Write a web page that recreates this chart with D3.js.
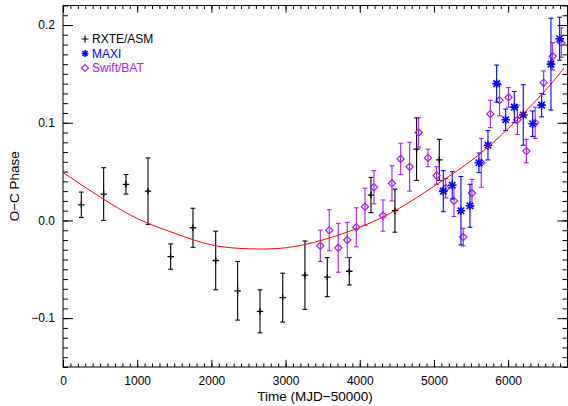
<!DOCTYPE html>
<html lang="en">

<head>
    <meta charset="UTF-8">
    <title>O-C Phase</title>
    <script src="https://d3js.org/d3.v7.min.js"></script>
    <style>
        body {
            margin: 0;
            background: #fff;
        }

        svg {
            display: block;
            font-family: "Liberation Sans", Arial, sans-serif;
        }
    </style>
</head>

<body>
    <svg class="chart" width="568" height="406"></svg>

    <script>
        // RXTE/ASM points (time, phase, error)
        const asmT = [247, 548, 849, 1146, 1451, 1752, 2058, 2354, 2655, 2961, 3261, 3562, 3859, 4151, 4474, 4766, 5072];
        const asmPhase = [0.016, 0.027, 0.037, 0.030, -0.037, -0.0075, -0.041, -0.072, -0.093, -0.079, -0.056, -0.058, -0.052, 0.026, 0.010, 0.073, 0.062];
        const asmErr = [0.013, 0.027, 0.010, 0.034, 0.013, 0.020, 0.030, 0.030, 0.022, 0.025, 0.035, 0.020, 0.014, 0.018, 0.022, 0.032, 0.021];

        // MAXI points
        const maxiT = [5126, 5247, 5364, 5485, 5606, 5728, 5845, 5966, 6083, 6204, 6330, 6451, 6577, 6694];
        const maxiPhase = [0.030, 0.036, 0.010, 0.015, 0.059, 0.077, 0.140, 0.103, 0.116, 0.108, 0.099, 0.118, 0.160, 0.186];
        const maxiErr = [0.021, 0.014, 0.035, 0.022, 0.010, 0.015, 0.019, 0.011, 0.016, 0.031, 0.013, 0.012, 0.047, 0.022];

        // Swift/BAT points
        const batT = [3468, 3589, 3710, 3832, 3953, 4070, 4191, 4313, 4434, 4551, 4672, 4793, 4919, 5036, 5158, 5270, 5395, 5512, 5638, 5760, 5884, 6005, 6125, 6245, 6364, 6478, 6600, 6716];
        const batPhase = [-0.026, -0.010, -0.028, -0.020, -0.007, 0.014, 0.034, 0.005, 0.038, 0.063, 0.055, 0.090, 0.064, 0.046, 0.033, 0.020, -0.017, 0.028, 0.059, 0.109, 0.123, 0.126, 0.103, 0.071, 0.100, 0.141, 0.168, 0.182];
        const batErr = [0.016, 0.021, 0.025, 0.018, 0.020, 0.019, 0.017, 0.016, 0.018, 0.016, 0.025, 0.015, 0.009, 0.009, 0.010, 0.016, 0.009, 0.014, 0.025, 0.014, 0.016, 0.010, 0.015, 0.012, 0.016, 0.012, 0.014, 0.015];

        // fitted curve
        const fitT = [0, 500, 1000, 1500, 2000, 2500, 3000, 3500, 4000, 4500, 5000, 5500, 6000, 6500, 6750];
        const fitPhase = [0.049, 0.024, 0.002, -0.013, -0.025, -0.029, -0.028, -0.020, -0.007, 0.011, 0.035, 0.061, 0.094, 0.133, 0.156];

        // axis ticks
        const xTicks = [0, 1000, 2000, 3000, 4000, 5000, 6000];
        const yTicks = [-0.1, 0.0, 0.1, 0.2];
        const legendNames = ["RXTE/ASM", "MAXI", "Swift/BAT"];

        const colors = { asm: "#000000", maxi: "#0000ff", bat: "#a020f0", fit: "#ff0000" };

        const margin = { top: 5.5, right: 0.5, bottom: 39, left: 63 },
            width = 568 - margin.left - margin.right,
            height = 406 - margin.top - margin.bottom;

        const svg = d3.select(".chart")
            .append("g")
            .attr("transform", "translate(" + margin.left + "," + margin.top + ")");

        const x = d3.scaleLinear().domain([0, 6800]).range([0, width]);
        const y = d3.scaleLinear().domain([-0.15, 0.22]).range([height, 0]);

        const xMinor = d3.range(0, 6801, 100);
        const yMinor = d3.range(-15, 23).map(d => d / 100);

        function styleAxis(g) {
            g.select(".domain").remove();
            g.selectAll("line").attr("stroke", "#000").attr("stroke-width", 1);
            g.selectAll("text").attr("font-family", "Liberation Sans, Arial, sans-serif")
                .attr("font-size", 12).attr("fill", "#000");
        }

        // bottom axis
        svg.append("g").attr("transform", "translate(0," + height + ")")
            .call(d3.axisBottom(x).tickValues(xMinor).tickSize(-3.6).tickFormat(""))
            .call(styleAxis);
        svg.append("g").attr("transform", "translate(0," + height + ")")
            .call(d3.axisBottom(x).tickValues(xTicks).tickSize(-7.2).tickPadding(9).tickFormat(d3.format("d")))
            .call(styleAxis);
        // top axis (mirror)
        svg.append("g")
            .call(d3.axisTop(x).tickValues(xMinor).tickSize(-3.6).tickFormat(""))
            .call(styleAxis);
        svg.append("g")
            .call(d3.axisTop(x).tickValues(xTicks).tickSize(-7.2).tickFormat(""))
            .call(styleAxis);
        // left axis
        svg.append("g")
            .call(d3.axisLeft(y).tickValues(yMinor).tickSize(-5).tickFormat(""))
            .call(styleAxis);
        svg.append("g")
            .call(d3.axisLeft(y).tickValues(yTicks).tickSize(-10).tickPadding(8)
                .tickFormat(d => d3.format(".1f")(d).replace("-", "\u2212")))
            .call(styleAxis);
        // right axis (mirror)
        svg.append("g").attr("transform", "translate(" + width + ",0)")
            .call(d3.axisRight(y).tickValues(yMinor).tickSize(-5).tickFormat(""))
            .call(styleAxis);
        svg.append("g").attr("transform", "translate(" + width + ",0)")
            .call(d3.axisRight(y).tickValues(yTicks).tickSize(-10).tickFormat(""))
            .call(styleAxis);

        // frame
        svg.append("rect")
            .attr("width", width).attr("height", height)
            .attr("fill", "none").attr("stroke", "#000").attr("stroke-width", 1);

        // axis titles
        svg.append("text")
            .attr("x", 315 - margin.left).attr("y", 401 - margin.top)
            .attr("text-anchor", "middle").attr("font-size", 13.5)
            .text("Time (MJD\u221250000)");
        svg.append("text")
            .attr("transform", "translate(" + (19 - margin.left) + "," + (height / 2) + ") rotate(-90)")
            .attr("text-anchor", "middle").attr("font-size", 13.5)
            .text("O\u2212C Phase");

        // error bars with caps
        function errorBars(ts, ps, es, color, cap, sw) {
            const rows = ts.map((t, i) => ({ t: t, p: ps[i], e: es[i] }));
            const g = svg.append("g").attr("stroke", color).attr("stroke-width", sw).attr("fill", "none");
            rows.forEach(d => {
                const cx = x(d.t), y1 = y(d.p + d.e), y2 = y(d.p - d.e);
                g.append("line").attr("x1", cx).attr("x2", cx).attr("y1", y1).attr("y2", y2);
                g.append("line").attr("x1", cx - cap).attr("x2", cx + cap).attr("y1", y1).attr("y2", y1);
                g.append("line").attr("x1", cx - cap).attr("x2", cx + cap).attr("y1", y2).attr("y2", y2);
            });
            return rows;
        }

        function plusMark(g, cx, cy, r) {
            g.append("path").attr("d", `M${cx - r},${cy}H${cx + r}M${cx},${cy - r}V${cy + r}`);
        }

        function starMark(g, cx, cy, r) {
            const k = r * 0.75;
            g.append("path").attr("d",
                `M${cx - r},${cy}H${cx + r}M${cx},${cy - r}V${cy + r}` +
                `M${cx - k},${cy - k}L${cx + k},${cy + k}M${cx - k},${cy + k}L${cx + k},${cy - k}`);
        }

        function diamondMark(g, cx, cy, r) {
            g.append("path").attr("d", `M${cx},${cy - r}L${cx + r},${cy}L${cx},${cy + r}L${cx - r},${cy}Z`);
        }

        // RXTE/ASM
        const asmRows = errorBars(asmT, asmPhase, asmErr, colors.asm, 2.4, 1.1);
        const asmG = svg.append("g").attr("stroke", colors.asm).attr("stroke-width", 1.3).attr("fill", "none");
        asmRows.forEach(d => plusMark(asmG, x(d.t), y(d.p), 3.2));

        // Swift/BAT
        const batRows = errorBars(batT, batPhase, batErr, colors.bat, 2.4, 1.1);
        const batG = svg.append("g").attr("stroke", colors.bat).attr("stroke-width", 1.2).attr("fill", "none");
        batRows.forEach(d => diamondMark(batG, x(d.t), y(d.p), 3.6));

        // MAXI
        const maxiRows = errorBars(maxiT, maxiPhase, maxiErr, colors.maxi, 2.4, 1.1);
        const maxiG = svg.append("g").attr("stroke", colors.maxi).attr("stroke-width", 1.6).attr("fill", "none");
        maxiRows.forEach(d => starMark(maxiG, x(d.t), y(d.p), 4.3));

        // fitted curve
        const fitRows = fitT.map((t, i) => ({ t: t, p: fitPhase[i] }));
        svg.append("path")
            .datum(fitRows)
            .attr("fill", "none")
            .attr("stroke", colors.fit)
            .attr("stroke-width", 1)
            .attr("d", d3.line().x(d => x(d.t)).y(d => y(d.p)).curve(d3.curveNatural));

        // legend
        const legend = svg.append("g").attr("transform", "translate(" + (85 - margin.left) + "," + (39 - margin.top) + ")");
        const legendColors = [colors.asm, colors.maxi, colors.bat];
        const markFns = [plusMark, starMark, diamondMark];
        legendNames.forEach((name, i) => {
            const gy = i * 14.5;
            const mg = legend.append("g").attr("stroke", legendColors[i]).attr("fill", "none")
                .attr("stroke-width", i === 1 ? 1.5 : 1.2);
            markFns[i](mg, 0, gy, i === 0 ? 3.5 : 3.4);
            legend.append("text")
                .attr("x", 7).attr("y", gy)
                .attr("dy", "0.36em")
                .attr("font-size", 12)
                .attr("fill", legendColors[i])
                .text(name);
        });
    </script>
</body>

</html>
